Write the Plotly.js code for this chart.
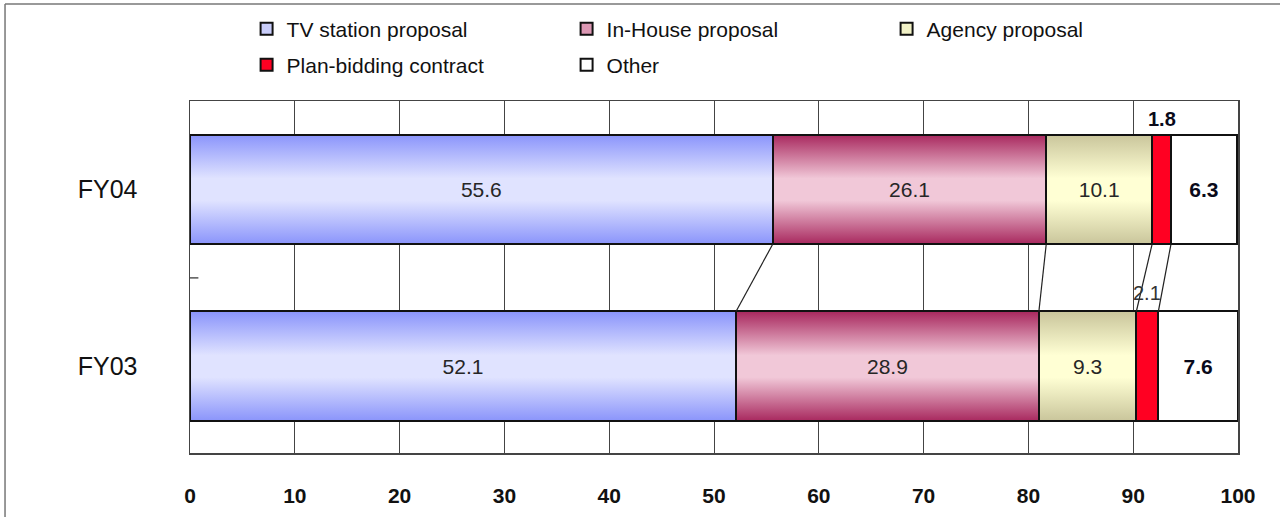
<!DOCTYPE html>
<html>
<head>
<meta charset="utf-8">
<script src="https://cdn.plot.ly/plotly-3.0.1.min.js"></script>
<style>
  html, body { margin: 0; padding: 0; background: #ffffff; }
  #chart { width: 1280px; height: 517px; }
</style>
</head>
<body>
<div id="chart"></div>
<script>
// ---- Data ----
const years = ['FY04', 'FY03'];
const seriesNames = ['TV station proposal', 'In-House proposal', 'Agency proposal', 'Plan-bidding contract', 'Other'];
const tvStation = [55.6, 52.1];
const inHouse = [26.1, 28.9];
const agency = [10.1, 9.3];
const planBidding = [1.8, 2.1];
const other = [6.3, 7.6];
const xTickVals = [0, 10, 20, 30, 40, 50, 60, 70, 80, 90, 100];

// ---- Styling ----
const FONT = '"Liberation Sans", Arial, sans-serif';
const BAR_W = 0.62;
const legendColors = ['#c9cdfa', '#dc98b4', '#f1f1c6', '#ff0022', '#ffffff'];
const gradients = [
  {edge: '#8a94fb', mid: '#e0e3ff'},
  {edge: '#a8285e', mid: '#f1c8d8'},
  {edge: '#c9c59b', mid: '#ffffd4'}
];
const seriesValues = [tvStation, inHouse, agency, planBidding, other];

const yPos = years.map((_, i) => years.length - 1 - i); // FY04 on top

const traces = seriesValues.map((vals, s) => {
  const isPlan = s === 3;
  const isOther = s === 4;
  return {
    type: 'bar',
    orientation: 'h',
    name: seriesNames[s],
    x: vals,
    y: yPos,
    width: BAR_W,
    legend: s < 3 ? 'legend' : 'legend2',
    marker: {color: legendColors[s], line: {color: '#111111', width: 2}},
    text: isPlan ? vals.map(() => '') : vals.map(v => v.toFixed(1)),
    textposition: 'inside',
    insidetextanchor: 'middle',
    constraintext: 'none',
    textangle: 0,
    textfont: {family: FONT, size: 21, color: isOther ? '#0a0a1a' : '#262626', weight: isOther ? 'bold' : 'normal'},
    hoverinfo: 'x+name'
  };
});

// Connector lines between the stack boundaries of the two bars
const cum = years.map((_, r) => {
  let acc = 0;
  return seriesValues.map(vals => (acc += vals[r]));
});
const connX = [], connY = [];
for (let s = 0; s < 4; s++) {
  connX.push(cum[0][s], cum[1][s], null);
  connY.push(yPos[0] - BAR_W / 2, yPos[1] + BAR_W / 2, null);
}
traces.unshift({
  type: 'scatter', mode: 'lines', x: connX, y: connY,
  line: {color: '#222222', width: 1.2}, showlegend: false, hoverinfo: 'skip'
});

// Labels for the thin plan-bidding segments, above the bars
const annotations = years.map((_, r) => ({
  x: cum[r][2] + planBidding[r] / 2,
  y: yPos[r] + BAR_W / 2,
  xref: 'x', yref: 'y',
  text: planBidding[r].toFixed(1),
  showarrow: false,
  yanchor: 'bottom',
  yshift: r === 0 ? 3 : 5,
  font: {family: FONT, size: 20, color: r === 0 ? '#0a0a1a' : '#333333', weight: r === 0 ? 'bold' : 'normal'}
}));

const legendCommon = {
  orientation: 'h', x: 0.054, xanchor: 'left', yanchor: 'middle',
  entrywidth: 275, entrywidthmode: 'pixels', bgcolor: 'rgba(0,0,0,0)',
  font: {family: FONT, size: 21, color: '#111111'}, traceorder: 'normal'
};

const layout = {
  width: 1280, height: 517,
  margin: {l: 190, r: 42, t: 101, b: 64, autoexpand: false},
  paper_bgcolor: '#ffffff', plot_bgcolor: '#ffffff',
  barmode: 'stack',
  font: {family: FONT, color: '#111111'},
  xaxis: {
    range: [0, 100], tickvals: xTickVals, ticktext: xTickVals.map(String),
    showgrid: true, gridcolor: '#444444', gridwidth: 1,
    zeroline: false, showline: true, mirror: true, linecolor: '#444444', linewidth: 1.5,
    ticks: '', ticklabelstandoff: 23,
    tickfont: {family: FONT, size: 21, color: '#111111', weight: 'bold'},
    fixedrange: true
  },
  yaxis: {
    range: [-0.49, 1.5], tickvals: yPos, ticktext: years,
    showgrid: false, zeroline: false, showline: true, mirror: true,
    linecolor: '#444444', linewidth: 1.5, ticks: '', ticklabelstandoff: 46,
    tickfont: {family: FONT, size: 25, color: '#111111'},
    fixedrange: true
  },
  legend: Object.assign({}, legendCommon, {y: 1.2045}),
  legend2: Object.assign({}, legendCommon, {y: 1.102}),
  annotations: annotations,
  shapes: [
    {type: 'line', xref: 'paper', yref: 'paper', x0: -0.1765, x1: 1.05, y0: 1.2756, y1: 1.2756, line: {color: '#777777', width: 1.5}},
    {type: 'line', xref: 'paper', yref: 'paper', x0: -0.1765, x1: -0.1765, y0: 1.2756, y1: -0.2, line: {color: '#777777', width: 1.5}},
    {type: 'line', xref: 'paper', yref: 'y', x0: 0, x1: 0.008, y0: 0.5, y1: 0.5, line: {color: '#555555', width: 1.5}}
  ],
  showlegend: true
};

Plotly.newPlot('chart', traces, layout, {displayModeBar: false, staticPlot: true}).then(gd => {
  const svg = gd.querySelector('.main-svg');
  let defs = svg.querySelector('defs');
  const NS = 'http://www.w3.org/2000/svg';
  gradients.forEach((g, i) => {
    const lg = document.createElementNS(NS, 'linearGradient');
    lg.setAttribute('id', 'barGrad' + i);
    lg.setAttribute('x1', '0'); lg.setAttribute('y1', '0');
    lg.setAttribute('x2', '0'); lg.setAttribute('y2', '1');
    [[0, g.edge], [0.4, g.mid], [0.6, g.mid], [1, g.edge]].forEach(([o, c]) => {
      const st = document.createElementNS(NS, 'stop');
      st.setAttribute('offset', o);
      st.setAttribute('stop-color', c);
      lg.appendChild(st);
    });
    defs.appendChild(lg);
  });
  const barTraces = gd.querySelectorAll('.barlayer .trace');
  barTraces.forEach((t, i) => {
    if (i < gradients.length) {
      t.querySelectorAll('path').forEach(p => { p.style.fill = 'url(#barGrad' + i + ')'; });
    }
  });
});
</script>
</body>
</html>
